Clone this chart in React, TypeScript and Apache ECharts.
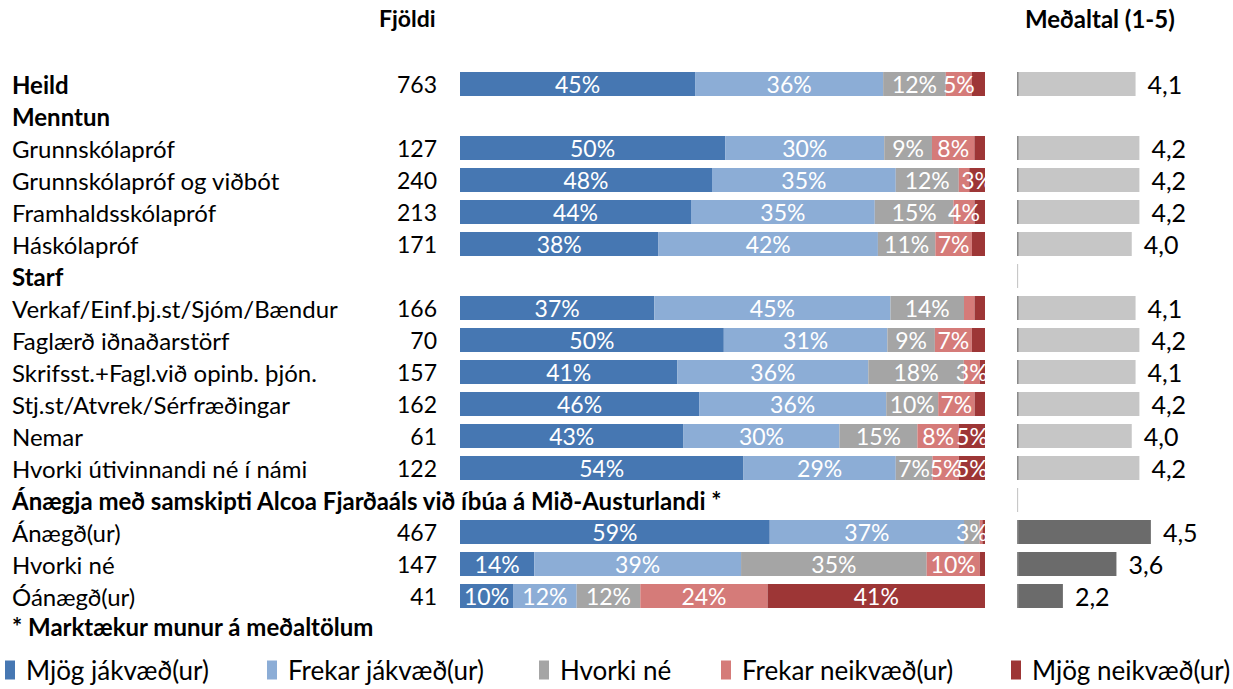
import React, { useEffect, useRef } from "react";
import * as echarts from "echarts";

const categories = [
  "Heild",
  "Menntun",
  "Grunnskólapróf",
  "Grunnskólapróf og viðbót",
  "Framhaldsskólapróf",
  "Háskólapróf",
  "Starf",
  "Verkaf/Einf.þj.st/Sjóm/Bændur",
  "Faglærð iðnaðarstörf",
  "Skrifsst.+Fagl.við opinb. þjón.",
  "Stj.st/Atvrek/Sérfræðingar",
  "Nemar",
  "Hvorki útivinnandi né í námi",
  "Ánægja með samskipti Alcoa Fjarðaáls við íbúa á Mið-Austurlandi *",
  "Ánægð(ur)",
  "Hvorki né",
  "Óánægð(ur)",
];
const boldRows = ["Heild", "Menntun", "Starf", "Ánægja með samskipti Alcoa Fjarðaáls við íbúa á Mið-Austurlandi *"];
const counts = [763, null, 127, 240, 213, 171, null, 166, 70, 157, 162, 61, 122, null, 467, 147, 41];

const seriesNames = ["Mjög jákvæð(ur)", "Frekar jákvæð(ur)", "Hvorki né", "Frekar neikvæð(ur)", "Mjög neikvæð(ur)"];
const mjogJakvaed = [45, null, 50, 48, 44, 38, null, 37, 50, 41, 46, 43, 54, null, 59, 14, 10];
const frekarJakvaed = [36, null, 30, 35, 35, 42, null, 45, 31, 36, 36, 30, 29, null, 37, 39, 12];
const hvorkiNe = [12, null, 9, 12, 15, 11, null, 14, 9, 18, 10, 15, 7, null, 3, 35, 12];
const frekarNeikvaed = [5, null, 8, 2, 4, 7, null, 2, 7, 3, 7, 8, 5, null, 0.5, 10, 24];
const mjogNeikvaed = [2.5, null, 2, 3, 2, 2.5, null, 2, 2.5, 1, 2, 5, 5, null, 0.5, 1, 41];

const means = [4.1, null, 4.2, 4.2, 4.2, 4.0, null, 4.1, 4.2, 4.1, 4.2, 4.0, 4.2, null, 4.5, 3.6, 2.2];

const colors = ["#4677b2", "#8cadd6", "#a5a5a5", "#d57b79", "#9d3636"];
const FONT = "Lato, 'Open Sans', sans-serif";

export default function App() {
  const ref = useRef<HTMLDivElement>(null);
  useEffect(() => {
    if (!ref.current) return;
    const chart = echarts.init(ref.current, null, { renderer: "svg" });
    const all = [mjogJakvaed, frekarJakvaed, hvorkiNe, frekarNeikvaed, mjogNeikvaed];
    const sums = categories.map((_, i) =>
      all.reduce((s, arr) => s + (arr[i] == null ? 0 : (arr[i] as number)), 0)
    );
    const sigIndex = categories.findIndex((c) => c.endsWith("*"));
    const top = 68;
    const rowH = 32;
    const height = rowH * categories.length;

    const stackSeries = all.map((arr, si) => ({
      name: seriesNames[si],
      type: "bar",
      stack: "a",
      xAxisIndex: 0,
      yAxisIndex: 0,
      barWidth: 24,
      itemStyle: { color: colors[si] },
      label: {
        show: true,
        position: "inside",
        color: "#fff",
        fontSize: 23,
        fontFamily: FONT,
        formatter: (p: any) => (p.data && p.data.raw >= 3 ? p.data.raw + "%" : ""),
      },
      data: arr.map((v, i) => (v == null ? null : { value: (v / sums[i]) * 100, raw: v })),
    }));

    const meanSeries = {
      type: "bar",
      xAxisIndex: 1,
      yAxisIndex: 2,
      barWidth: 24,
      data: means.map((v, i) =>
        v == null ? null : { value: v, itemStyle: { color: i > sigIndex ? "#6b6b6b" : "#c6c6c6" } }
      ),
      label: {
        show: true,
        position: "right",
        distance: 12,
        color: "#000",
        fontSize: 25,
        fontFamily: FONT,
        formatter: (p: any) => p.value.toFixed(1).replace(".", ","),
      },
    };
    const edgeSeries = {
      type: "bar",
      xAxisIndex: 1,
      yAxisIndex: 2,
      barWidth: 24,
      barGap: "-100%",
      silent: true,
      data: means.map((v, i) => {
        if (v != null) return { value: 1.04, itemStyle: { color: "#8a8a8a" } };
        if (i > 1 && boldRows.includes(categories[i])) return { value: 1.03, itemStyle: { color: "#c8c8c8" } };
        return null;
      }),
      label: { show: false },
    };

    const legendLefts = [5, 267, 539, 721, 1011];

    chart.setOption({
      animation: false,
      textStyle: { fontFamily: FONT },
      grid: [
        { left: 460, width: 525, top, height },
        { left: 1017, width: 153, top, height },
      ],
      xAxis: [
        { type: "value", gridIndex: 0, min: 0, max: 100, show: false },
        { type: "value", gridIndex: 1, min: 1, max: 5, show: false },
      ],
      yAxis: [
        {
          type: "category",
          gridIndex: 0,
          inverse: true,
          data: categories,
          axisLine: { show: false },
          axisTick: { show: false },
          axisLabel: {
            align: "left",
            margin: 448,
            fontSize: 24,
            color: "#000",
            fontFamily: FONT,
            formatter: (v: string) => (boldRows.includes(v) ? "{b|" + v + "}" : v),
            rich: { b: { fontWeight: "bold", fontSize: 24, color: "#000", fontFamily: FONT } },
          },
        },
        {
          type: "category",
          gridIndex: 0,
          inverse: true,
          position: "left",
          data: categories,
          axisLine: { show: false },
          axisTick: { show: false },
          axisLabel: {
            align: "right",
            margin: 23,
            fontSize: 23,
            color: "#000",
            fontFamily: FONT,
            formatter: (_v: string, i: number) => (counts[i] == null ? "" : String(counts[i])),
          },
        },
        {
          type: "category",
          gridIndex: 1,
          inverse: true,
          data: categories,
          show: false,
        },
      ],
      legend: seriesNames.map((n, i) => ({
        data: [n],
        left: legendLefts[i],
        top: 657,
        padding: 0,
        icon: "rect",
        itemWidth: 10,
        itemHeight: 19,
        selectedMode: false,
        textStyle: { fontSize: 26, color: "#000", fontFamily: FONT, padding: [0, 0, 0, 6] },
      })),
      graphic: [
        {
          type: "text",
          left: 379,
          top: 6,
          style: { text: "Fjöldi", fontSize: 23, fontWeight: "bold", fill: "#000", fontFamily: FONT },
        },
        {
          type: "text",
          left: 1025,
          top: 6,
          style: { text: "Meðaltal (1-5)", fontSize: 24, fontWeight: "bold", fill: "#000", fontFamily: FONT },
        },
        {
          type: "text",
          left: 12,
          top: 614,
          style: { text: "* Marktækur munur á meðaltölum", fontSize: 24, fontWeight: "bold", fill: "#000", fontFamily: FONT },
        },
      ],
      series: [...stackSeries, meanSeries, edgeSeries],
    });
    return () => chart.dispose();
  }, []);
  return <div ref={ref} style={{ position: "fixed", left: 0, top: 0, width: 1233, height: 689, background: "#fff" }} />;
}
